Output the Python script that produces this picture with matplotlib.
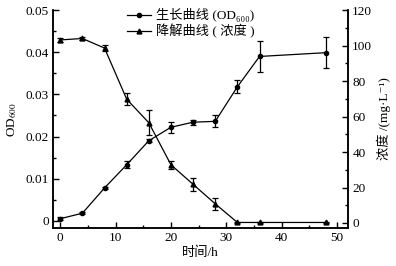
import numpy as np
import matplotlib.pyplot as plt
from matplotlib.ticker import MultipleLocator
from matplotlib.lines import Line2D

plt.rcParams['font.family'] = ['Liberation Serif', 'Noto Sans CJK SC', 'DejaVu Sans']
plt.rcParams['font.size'] = 9.5
plt.rcParams['mathtext.fontset'] = 'stix'

# time points (h)
t = [0, 4, 8, 12, 16, 20, 24, 28, 32, 36, 48]

# growth curve (OD600)
od = [0.0005, 0.0018, 0.0078, 0.0133, 0.0190, 0.0222, 0.0234, 0.0236, 0.0318, 0.0390, 0.0399]
od_err = [0.0003, 0.0002, 0.0003, 0.0008, 0.0004, 0.0013, 0.0006, 0.0014, 0.0015, 0.0036, 0.0037]

# degradation curve (mg/L)
conc = [103.2, 104.0, 98.6, 69.8, 56.5, 32.8, 21.8, 10.8, 0.3, 0.3, 0.3]
conc_err = [1.2, 1.0, 1.5, 3.5, 7.0, 2.2, 3.5, 3.5, 0.3, 0.3, 0.3]

fig = plt.figure(figsize=(3.96, 2.66), dpi=100)
ax = fig.add_axes([0.134, 0.143, 0.745, 0.819])
ax2 = ax.twinx()

ax.errorbar(t, od, yerr=od_err, color='black', marker='o', ms=3, lw=0.9,
            elinewidth=0.9, capsize=2, capthick=0.9)
ax2.errorbar(t, conc, yerr=conc_err, color='black', marker='^', ms=3.5, lw=0.9,
             elinewidth=0.9, capsize=2, capthick=0.9)

ax.set_xlim(-1.3, 52)
ax.set_ylim(-0.0017, 0.05)
ax2.set_ylim(-2.8, 120)

ax.xaxis.set_major_locator(MultipleLocator(10))
ax.xaxis.set_minor_locator(MultipleLocator(5))
ax.yaxis.set_minor_locator(MultipleLocator(0.005))
ax2.yaxis.set_major_locator(MultipleLocator(20))
ax2.yaxis.set_minor_locator(MultipleLocator(10))
ax.set_yticks([0, 0.01, 0.02, 0.03, 0.04, 0.05])
ax.set_yticklabels(['0', '0.01', '0.02', '0.03', '0.04', '0.05'])

for a in (ax, ax2):
    a.spines['top'].set_visible(False)
    for s in a.spines.values():
        s.set_linewidth(1.1)
    a.tick_params(which='both', direction='in', width=1, pad=3)
    a.tick_params(which='major', length=4)
    a.tick_params(which='minor', length=2.5)

ax.set_xlabel('时间/h', labelpad=2)
ax.set_ylabel('OD$_{600}$', labelpad=5)
ax2.set_ylabel('浓度 /(mg·L⁻¹)', labelpad=3)

handles = [
    Line2D([], [], color='black', marker='o', ms=3, lw=0.9),
    Line2D([], [], color='black', marker='^', ms=3.5, lw=0.9),
]
labels = ['生长曲线 (OD₆₀₀)', '降解曲线 ( 浓度 )']
ax.legend(handles, labels, loc='upper left', bbox_to_anchor=(0.22, 1.05),
          frameon=False, handlelength=1.8, handletextpad=0.4,
          labelspacing=0.1, borderpad=0.2)

fig.savefig('out.png', dpi=100)
